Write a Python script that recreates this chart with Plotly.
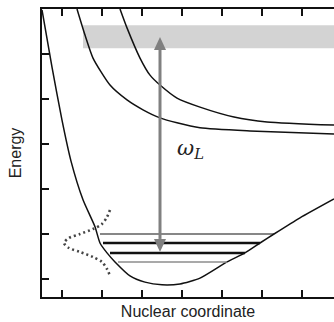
import plotly.graph_objects as go

# Ground-state potential (nuclear coordinate, energy)
ground_x = [0.0, 0.25, 0.5, 0.725, 1.025, 1.325, 1.45, 1.625, 1.825, 2.2, 2.575, 3.0, 3.45, 3.95, 4.625, 5.075, 5.45, 5.8, 6.45, 7.3]
ground_y = [6.38, 5.11, 3.93, 3.02, 2.16, 1.56, 1.2, 0.98, 0.78, 0.47, 0.33, 0.27, 0.29, 0.42, 0.78, 0.98, 1.2, 1.4, 1.76, 2.18]

# Excited-state potentials
excA_x = [0.875, 1.075, 1.275, 1.7, 2.125, 2.525, 2.95, 3.375, 3.95, 5.2, 7.3]
excA_y = [6.4, 5.82, 5.31, 4.71, 4.38, 4.16, 3.98, 3.87, 3.76, 3.69, 3.62]
excB_x = [1.95, 2.125, 2.45, 2.7, 2.95, 3.375, 3.95, 4.8, 5.625, 7.3]
excB_y = [6.4, 5.98, 5.31, 4.93, 4.71, 4.42, 4.22, 4.0, 3.89, 3.82]

# Vibrational levels
level_y = [1.40, 1.20, 0.978, 0.778]
level_x0 = [1.45, 1.525, 1.7, 1.9]
level_x1 = [5.8, 5.45, 5.075, 4.625]
level_w = [1.1, 2.4, 2.4, 1.4]
level_c = ["#111111", "#111111", "#111111", "#8c8c8c"]

# Wavefunction (dotted)
wave_x = [1.7, 1.625, 1.5, 1.275, 0.95, 0.675, 0.55, 0.675, 0.95, 1.275, 1.5, 1.625, 1.7]
wave_y = [1.933, 1.778, 1.622, 1.511, 1.4, 1.311, 1.2, 1.089, 1.0, 0.889, 0.778, 0.622, 0.467]

# Continuum band and laser arrow
band_x = [1.025, 7.3]
band_y = [5.53, 6.04]
arrow_x = 2.95
arrow_y = [1.0, 5.78]
label_pos = (3.7, 3.3)

x_ticks = [0.5, 1.5, 2.5, 3.5, 4.5, 5.5, 6.5]
y_ticks = [0.4, 1.4, 2.4, 3.4, 4.4, 5.4]

fig = go.Figure()
line_style = dict(color="#111111", width=1.5, shape="spline", smoothing=0.6)
fig.add_trace(go.Scatter(x=ground_x, y=ground_y, mode="lines", line=line_style))
fig.add_trace(go.Scatter(x=excA_x, y=excA_y, mode="lines", line=line_style))
fig.add_trace(go.Scatter(x=excB_x, y=excB_y, mode="lines", line=line_style))
for y, x0, x1, w, c in zip(level_y, level_x0, level_x1, level_w, level_c):
    fig.add_trace(go.Scatter(x=[x0, x1], y=[y, y], mode="lines", line=dict(color=c, width=w)))
fig.add_trace(go.Scatter(x=wave_x, y=wave_y, mode="lines",
                         line=dict(color="#444444", width=2.6, dash="2px,3px", shape="spline", smoothing=0.8)))

# arrow shaft and heads
head_h = 0.29  # data units
head_w = 0.15
fig.add_trace(go.Scatter(x=[arrow_x, arrow_x], y=[arrow_y[0] + head_h, arrow_y[1] - head_h], mode="lines",
                         line=dict(color="#808080", width=3)))
fig.add_shape(type="path", xref="x", yref="y",
              path=f"M{arrow_x},{arrow_y[1]} L{arrow_x-head_w},{arrow_y[1]-head_h} L{arrow_x+head_w},{arrow_y[1]-head_h} Z",
              fillcolor="#808080", line=dict(width=0))
fig.add_shape(type="path", xref="x", yref="y",
              path=f"M{arrow_x},{arrow_y[0]} L{arrow_x-head_w},{arrow_y[0]+head_h} L{arrow_x+head_w},{arrow_y[0]+head_h} Z",
              fillcolor="#808080", line=dict(width=0))

fig.add_shape(type="rect", xref="x", yref="y", x0=band_x[0], x1=band_x[1], y0=band_y[0], y1=band_y[1],
              fillcolor="#d3d3d3", line=dict(width=0), layer="below")

fig.add_annotation(x=label_pos[0], y=label_pos[1], xref="x", yref="y", showarrow=False,
                   text="<i>ω</i><sub><i>L</i></sub>",
                   font=dict(family="DejaVu Serif", size=21, color="#222222"))

fig.update_layout(
    width=334, height=322, margin=dict(l=42, r=0, t=9, b=25),
    paper_bgcolor="white", plot_bgcolor="white", showlegend=False,
    font=dict(family="Liberation Sans, Arial", size=16, color="#222222"),
)
fig.update_xaxes(range=[0, 7.3], showgrid=False, zeroline=False, showline=True, linecolor="#111111", linewidth=2,
                 mirror="ticks", ticks="inside", ticklen=7, tickwidth=1.5, tickcolor="#111111",
                 tickvals=x_ticks, showticklabels=False,
                 title=dict(text="Nuclear coordinate", standoff=8, font=dict(size=16)))
fig.update_yaxes(range=[0, 6.4], showgrid=False, zeroline=False, showline=True, linecolor="#111111", linewidth=2,
                 ticks="inside", ticklen=7, tickwidth=1.5, tickcolor="#111111",
                 tickvals=y_ticks, showticklabels=False,
                 title=dict(text="Energy", standoff=14, font=dict(size=16)))

fig.write_html("out.html", config={"displayModeBar": False},
               post_script="document.body.style.margin='0';document.body.style.padding='0';")
